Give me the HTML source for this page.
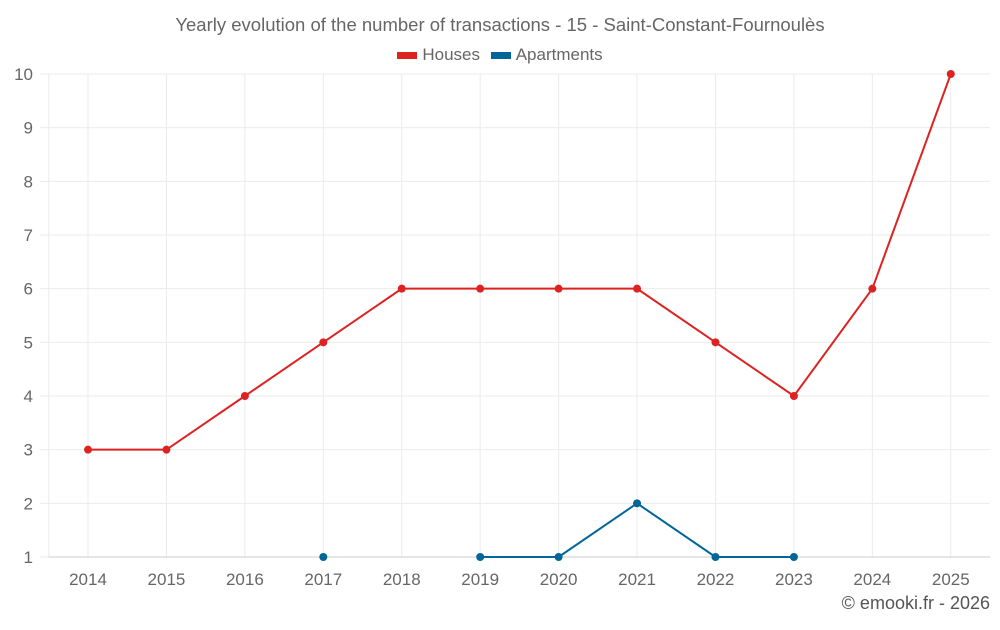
<!DOCTYPE html>
<html><head><meta charset="utf-8"><style>
body{margin:0;background:#fff;font-family:"Liberation Sans",sans-serif}
svg text{font-family:"Liberation Sans",sans-serif;fill:#666}
</style></head><body>
<svg id="c" width="1000" height="625"></svg>
<script>
const years=[2014,2015,2016,2017,2018,2019,2020,2021,2022,2023,2024,2025];
const houses=[3,3,4,5,6,6,6,6,5,4,6,10];
const apartments=[null,null,null,1,null,1,1,2,1,1,null,null];
const yTicks=[1,2,3,4,5,6,7,8,9,10];
const NS='http://www.w3.org/2000/svg';
const svg=document.getElementById('c');
const L=48.8,R=990,T=74,B=557;
const step=(R-L)/years.length;
const x=i=>L+step*(i+0.5);
const y=v=>B-(v-1)*(B-T)/9;
function mk(t,a,p){const e=document.createElementNS(NS,t);for(const k in a)e.setAttribute(k,a[k]);(p||svg).appendChild(e);return e;}
const grid=mk('g',{});


yTicks.forEach(v=>{mk('line',{x1:40,x2:R,y1:y(v),y2:y(v),stroke:'#ebebeb'},grid);
 const t=mk('text',{x:33,y:y(v)+6,'text-anchor':'end','font-size':17});t.textContent=v;
 
 });
mk('line',{x1:L,x2:L,y1:T,y2:B,stroke:'#ebebeb'},grid);
years.forEach((yr,i)=>{mk('line',{x1:x(i),x2:x(i),y1:T,y2:B,stroke:'#ebebeb'},grid);
 const t=mk('text',{x:x(i),y:585,'text-anchor':'middle','font-size':17});t.textContent=yr;
 
 });
mk('line',{x1:L,x2:R,y1:B,y2:B,stroke:'#ccc'});
function series(vals,color,name){
 const g=mk('g',{});
 
 
 let d='',pen=false;
 vals.forEach((v,i)=>{if(v==null){pen=false;return;}d+=(pen?'L':'M')+x(i)+' '+y(v)+' ';pen=true;});
 mk('path',{d:d,fill:'none',stroke:color,'stroke-width':2},g);
 vals.forEach((v,i)=>{if(v==null)return;const c=mk('circle',{cx:x(i),cy:y(v),r:4,fill:color},g);
  
  });
}
series(houses,'#dd2222','houses');
series(apartments,'#006699','apartments');
</script>
<div style="position:absolute;left:0;top:14px;width:1000px;text-align:center;font-size:18.5px;color:#666">Yearly evolution of the number of transactions - 15 - Saint-Constant-Fournoulès</div>
<div style="position:absolute;left:0;top:45px;width:1000px;text-align:center;font-size:17px;color:#666">
<span><span style="display:inline-block;width:20px;height:7px;background:#dd2222;vertical-align:middle;margin-right:5px"></span>Houses</span>
<span style="margin-left:6px"><span style="display:inline-block;width:20px;height:7px;background:#006699;vertical-align:middle;margin-right:5px"></span>Apartments</span></div>
<div style="position:absolute;right:10px;top:593px;font-size:18px;color:#555">© emooki.fr - 2026</div>
</body></html>
